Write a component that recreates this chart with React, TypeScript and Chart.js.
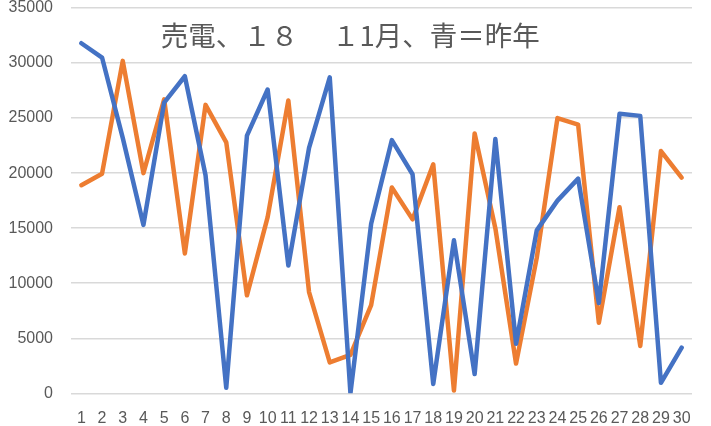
import React, { useEffect, useRef } from "react";
import { Chart, registerables } from "chart.js";

Chart.register(...registerables);

const days: string[] = Array.from({ length: 30 }, (_, i) => String(i + 1));

const thisYear: number[] = [
  31800, 30500, 23200, 15300, 26400, 28800, 19800, 500, 23400, 27600,
  11600, 22300, 28700, 0, 15400, 23000, 19900, 850, 13900, 1750,
  23100, 4500, 14800, 17500, 19500, 8200, 25400, 25200, 950, 4150,
];

const lastYear: number[] = [
  18900, 19950, 30200, 20000, 26700, 12700, 26200, 22800, 8900, 16000,
  26600, 9200, 2800, 3500, 8000, 18700, 15800, 20800, 250, 23600,
  15000, 2700, 12300, 25000, 24400, 6400, 16900, 4300, 22000, 19600,
];

const yTicks: number[] = [0, 5000, 10000, 15000, 20000, 25000, 30000, 35000];

const titleText = "売電、１８　 １1月、青＝昨年";

export default function App() {
  const ref = useRef<HTMLCanvasElement | null>(null);

  useEffect(() => {
    document.body.style.margin = "0";
    const canvas = ref.current;
    if (!canvas) return;
    const chart = new Chart(canvas, {
      type: "line",
      data: {
        labels: days,
        datasets: [
          {
            label: "昨年",
            data: thisYear,
            borderColor: "#4472C4",
            backgroundColor: "#4472C4",
            borderWidth: 4.5,
            pointRadius: 0,
            tension: 0,
            borderJoinStyle: "round",
            borderCapStyle: "round",
          },
          {
            label: "今年",
            data: lastYear,
            borderColor: "#ED7D31",
            backgroundColor: "#ED7D31",
            borderWidth: 4.5,
            pointRadius: 0,
            tension: 0,
            borderJoinStyle: "round",
            borderCapStyle: "round",
          },
        ],
      },
      options: {
        responsive: false,
        animation: false,
        layout: { padding: { top: 7.5, right: 19, bottom: -2.5, left: 8.5 } },
        plugins: {
          legend: { display: false },
          tooltip: { enabled: false },
          title: {
            display: true,
            text: titleText,
            color: "#595959",
            font: { family: "'Noto Sans CJK JP', 'Noto Sans'", size: 27.5, weight: "normal", lineHeight: 1.2 },
            padding: { top: 11, bottom: -44 },
          },
        },
        scales: {
          x: {
            offset: true,
            grid: { display: false, drawTicks: true, tickLength: 16 },
            border: { display: false },
            ticks: {
              color: "#595959",
              font: { family: "'Liberation Sans', Arial", size: 16 },
              padding: 0,
              maxRotation: 0,
              autoSkip: false,
            },
          },
          y: {
            min: 0,
            max: 35000,
            afterBuildTicks: (axis: any) => {
              axis.ticks = yTicks.map((v) => ({ value: v }));
            },
            grid: { color: "#D9D9D9", lineWidth: 1.5, drawTicks: true, tickLength: 18, tickColor: "rgba(0,0,0,0)" },
            border: { display: false },
            ticks: {
              color: "#595959",
              font: { family: "'Liberation Sans', Arial", size: 16, lineHeight: 1.0 },
              padding: 0,
              callback: (v: any) => String(v),
            },
          },
        },
      },
    });
    return () => chart.destroy();
  }, []);

  return (
    <div style={{ width: 711, height: 426, background: "#fff" }}>
      <canvas ref={ref} width={711} height={426} style={{ display: "block" }} />
    </div>
  );
}
